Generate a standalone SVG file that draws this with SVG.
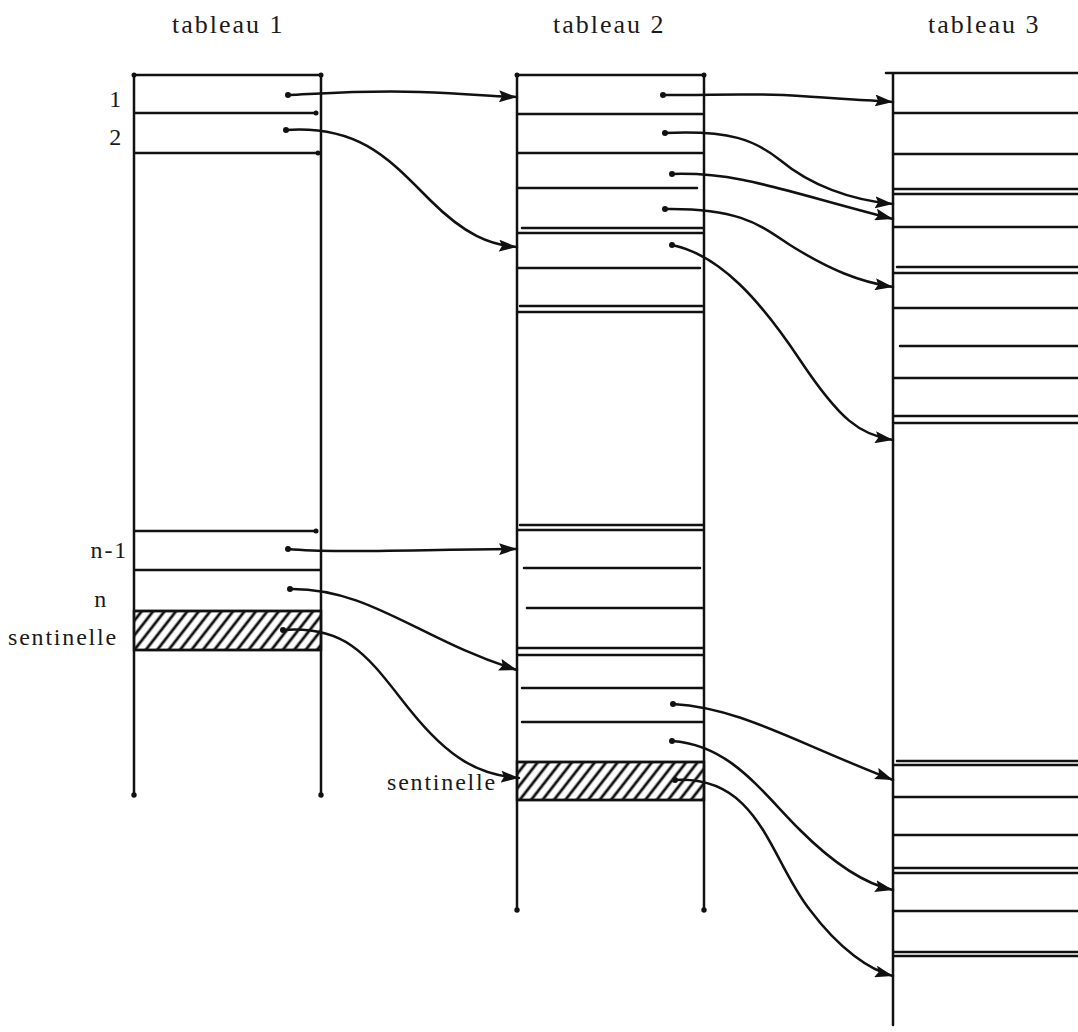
<svg xmlns="http://www.w3.org/2000/svg" width="1078" height="1032" viewBox="0 0 1078 1032">
<style>
.ln{stroke:#111;stroke-width:2.5;fill:none;stroke-linecap:round}
.cn{stroke:#111;stroke-width:2.5;fill:none;stroke-linecap:round}
.dot{fill:#111}
.t{font-family:"Liberation Serif","Times New Roman",serif;font-size:26px;fill:#1a1a1a;letter-spacing:2px}
.lb{font-family:"Liberation Serif","Times New Roman",serif;font-size:24px;fill:#1a1a1a;letter-spacing:1.8px}
.hatch{fill:url(#hp);stroke:#111;stroke-width:2.4}
</style>
<defs>
<pattern id="hp" patternUnits="userSpaceOnUse" width="9" height="9" patternTransform="rotate(38)">
<line x1="2" y1="0" x2="2" y2="9" stroke="#111" stroke-width="2.8"/>
</pattern>
<marker id="ah" markerUnits="userSpaceOnUse" markerWidth="19" markerHeight="12" refX="18" refY="6" orient="auto">
<path d="M0,0 L18,6 L0,12 L3,6 z" fill="#111"/>
</marker>
</defs>
<rect width="1078" height="1032" fill="#fff"/>

<text class="t" x="172" y="33">tableau 1</text>
<text class="t" x="553" y="33">tableau 2</text>
<text class="t" x="928" y="33">tableau 3</text>

<g id="tableau1">
<rect class="hatch" x="134" y="611" width="187" height="39"/>
<path class="ln" d="M134,75 V795 M321,75 V795 M134,75 H321 M134,113 H316 M134,153 H318 M134,531 H316 M134,570 H321 M134,611 H321 M134,650 H321"/>
<circle class="dot" cx="134" cy="75" r="2.5"/><circle class="dot" cx="321" cy="75" r="2.5"/>
<circle class="dot" cx="316" cy="113" r="2.5"/><circle class="dot" cx="318" cy="153" r="2.5"/>
<circle class="dot" cx="316" cy="531" r="2.5"/>
<circle class="dot" cx="134" cy="795" r="2.7"/><circle class="dot" cx="321" cy="795" r="2.7"/>
<text class="lb" x="123" y="107" text-anchor="end">1</text>
<text class="lb" x="123" y="145" text-anchor="end">2</text>
<text class="lb" x="128" y="558" text-anchor="end">n-1</text>
<text class="lb" x="108" y="607" text-anchor="end">n</text>
<text class="lb" x="8" y="645">sentinelle</text>
</g>

<g id="tableau2">
<rect class="hatch" x="517" y="762" width="187" height="38"/>
<path class="ln" d="M517,75 V910 M704,75 V910 M517,75 H704 M517,114 H702 M517,153 H702 M517,188 H697 M522,228 H702 M517,233 H704 M517,268 H700 M520,306 H702 M517,312 H704 M520,525 H704 M517,530 H704 M524,568 H700 M527,608 H702 M517,648 H704 M517,655 H704 M522,688 H704 M522,722 H704 M517,762 H704 M517,800 H704"/>
<circle class="dot" cx="517" cy="75" r="2.5"/><circle class="dot" cx="704" cy="75" r="2.5"/>
<circle class="dot" cx="517" cy="910" r="2.7"/><circle class="dot" cx="704" cy="910" r="2.7"/>
<text class="lb" x="387" y="790">sentinelle</text>
</g>

<g id="tableau3">
<path class="ln" d="M893,73 V1025 M886,73 H1078 M893,113 H1078 M893,154 H1078 M893,189 H1078 M893,194 H1078 M893,227 H1078 M897,267 H1078 M893,273 H1078 M893,308 H1078 M900,346 H1078 M893,378 H1078 M893,416 H1078 M893,423 H1078 M897,761 H1078 M893,765 H1078 M893,797 H1078 M893,835 H1078 M893,868 H1078 M893,873 H1078 M893,911 H1078 M893,952 H1078 M893,956 H1078"/>
</g>

<g id="connectors">
<path class="cn" marker-end="url(#ah)" d="M288,95 C330,93 370,90 420,92 S490,96 517,97"/>
<path class="cn" marker-end="url(#ah)" d="M286,130 C360,125 390,160 430,200 C465,235 490,245 517,247"/>
<path class="cn" marker-end="url(#ah)" d="M288,549 C330,553 400,550 517,549"/>
<path class="cn" marker-end="url(#ah)" d="M290,589 C370,588 420,640 517,670"/>
<path class="cn" marker-end="url(#ah)" d="M283,630 C350,625 370,660 410,710 C450,760 480,775 519,778"/>
<path class="cn" marker-end="url(#ah)" d="M663,95 C720,95 760,93 800,96 S870,100 893,102"/>
<path class="cn" marker-end="url(#ah)" d="M665,133 C730,130 755,140 780,160 C810,185 850,200 893,204"/>
<path class="cn" marker-end="url(#ah)" d="M672,174 C740,172 780,190 893,219"/>
<path class="cn" marker-end="url(#ah)" d="M665,209 C740,208 760,225 790,245 C830,270 860,282 893,287"/>
<path class="cn" marker-end="url(#ah)" d="M672,245 C720,255 760,300 800,360 C840,420 860,435 893,440"/>
<path class="cn" marker-end="url(#ah)" d="M673,704 C740,708 790,740 893,780"/>
<path class="cn" marker-end="url(#ah)" d="M672,741 C730,745 760,790 800,830 C840,870 870,885 893,890"/>
<path class="cn" marker-end="url(#ah)" d="M675,780 C760,775 770,860 810,910 C840,950 870,970 893,976"/>
<circle class="dot" cx="288" cy="95" r="3"/><circle class="dot" cx="286" cy="130" r="3"/>
<circle class="dot" cx="288" cy="549" r="3"/><circle class="dot" cx="290" cy="589" r="3"/>
<circle class="dot" cx="283" cy="630" r="3"/>
<circle class="dot" cx="663" cy="95" r="3"/><circle class="dot" cx="665" cy="133" r="3"/>
<circle class="dot" cx="672" cy="174" r="3"/><circle class="dot" cx="665" cy="209" r="3"/>
<circle class="dot" cx="672" cy="245" r="3"/><circle class="dot" cx="673" cy="704" r="3"/>
<circle class="dot" cx="672" cy="741" r="3"/><circle class="dot" cx="675" cy="780" r="3"/>
</g>
</svg>
